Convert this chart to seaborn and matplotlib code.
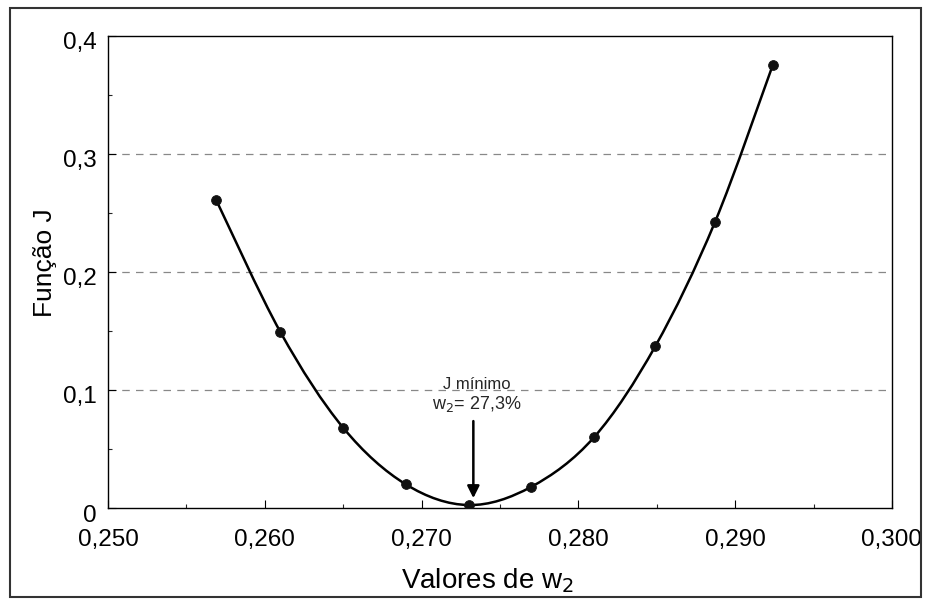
import matplotlib
matplotlib.use("Agg")
import matplotlib.pyplot as plt
import seaborn as sns
import pandas as pd
import numpy as np
from matplotlib.ticker import MultipleLocator
from matplotlib.patches import Rectangle, PathPatch
from matplotlib.path import Path
from matplotlib.transforms import ScaledTranslation

# Data
w2_values = [0.2569, 0.2610, 0.2650, 0.2690, 0.2730, 0.2770, 0.2810, 0.2849, 0.2887, 0.2924]
j_values = [0.261, 0.149, 0.068, 0.020, 0.0025, 0.018, 0.060, 0.137, 0.242, 0.3755]
x_ticks = [0.250, 0.260, 0.270, 0.280, 0.290, 0.300]
x_tick_labels = ["0,250", "0,260", "0,270", "0,280", "0,290", "0,300"]
y_ticks = [0.0, 0.1, 0.2, 0.3, 0.4]
y_tick_labels = ["0", "0,1", "0,2", "0,3", "0,4"]

df = pd.DataFrame({"w2": w2_values, "J": j_values})

sns.set_theme(style="white")
plt.rcParams['font.family'] = ['Liberation Sans', 'DejaVu Sans']

fig = plt.figure(figsize=(9.27, 6.01), dpi=100)
ax = fig.add_axes([108/927, 1 - 508/601, (892 - 108)/927, (508 - 36)/601])

# smooth curve through the data points (Catmull-Rom drawn as Bezier segments)
xs = np.array(w2_values)
ys = np.array(j_values)
verts = [(xs[0], ys[0])]
codes = [Path.MOVETO]
n = len(xs)
for i in range(n - 1):
    p0 = np.array([xs[max(i - 1, 0)], ys[max(i - 1, 0)]])
    p1 = np.array([xs[i], ys[i]])
    p2 = np.array([xs[i + 1], ys[i + 1]])
    p3 = np.array([xs[min(i + 2, n - 1)], ys[min(i + 2, n - 1)]])
    c1 = p1 + (p2 - p0) / 6.0
    c2 = p2 - (p3 - p1) / 6.0
    verts += [tuple(c1), tuple(c2), tuple(p2)]
    codes += [Path.CURVE4, Path.CURVE4, Path.CURVE4]
ax.add_patch(PathPatch(Path(verts, codes), facecolor="none", edgecolor="black",
                       lw=1.8, zorder=2))

sns.scatterplot(data=df, x="w2", y="J", ax=ax, color="#111111", s=50,
                edgecolor="#111111", zorder=3)

ax.set_xlim(0.250, 0.300)
ax.set_ylim(0, 0.4)
ax.set_xticks(x_ticks)
ax.set_xticklabels(x_tick_labels)
ax.set_yticks(y_ticks)
ax.set_yticklabels(y_tick_labels)
ax.xaxis.set_minor_locator(MultipleLocator(0.005))
ax.yaxis.set_minor_locator(MultipleLocator(0.05))
ax.tick_params(axis="both", which="major", direction="in", length=6, width=0.8,
               labelsize=17.5, colors="black", bottom=True, left=True)
ax.tick_params(axis="both", which="minor", direction="in", length=3, width=0.8,
               bottom=True, left=True)
ax.tick_params(axis="x", pad=15)
ax.tick_params(axis="y", pad=8)

# y tick labels sit slightly below their tick in the reference
offset = ScaledTranslation(0, -5/100, fig.dpi_scale_trans)
for lbl in ax.get_yticklabels():
    lbl.set_transform(lbl.get_transform() + offset)

for yv in [0.1, 0.2, 0.3]:
    ax.axhline(yv, color="#888888", lw=0.9, ls=(0, (6, 5)), zorder=0)

for sp in ax.spines.values():
    sp.set_color("black")
    sp.set_linewidth(1.0)

ax.set_xlabel("Valores de w$_2$", fontsize=20, color="black")
ax.xaxis.set_label_coords((488 - 108) / 784, (508 - 566) / 472)
ax.set_ylabel("Função J", fontsize=19, color="black")
ax.yaxis.set_label_coords((57 - 108) / 784, (508 - 263) / 472)

ax.text(0.2735, 0.1045, "J mínimo", fontsize=12, ha="center", va="center")
ax.text(0.2735, 0.0885, "w$_2$= 27,3%", fontsize=13, ha="center", va="center")
ax.annotate("", xy=(0.2733, 0.006), xytext=(0.2733, 0.076),
            arrowprops=dict(arrowstyle="-|>", color="black", lw=1.8, mutation_scale=18))

fig.patches.append(Rectangle((10/927, 1 - 597/601), (921 - 10)/927, (597 - 8)/601,
                             transform=fig.transFigure, fill=False, edgecolor="#333333", lw=1.5))

fig.savefig("out.png", dpi=100)
